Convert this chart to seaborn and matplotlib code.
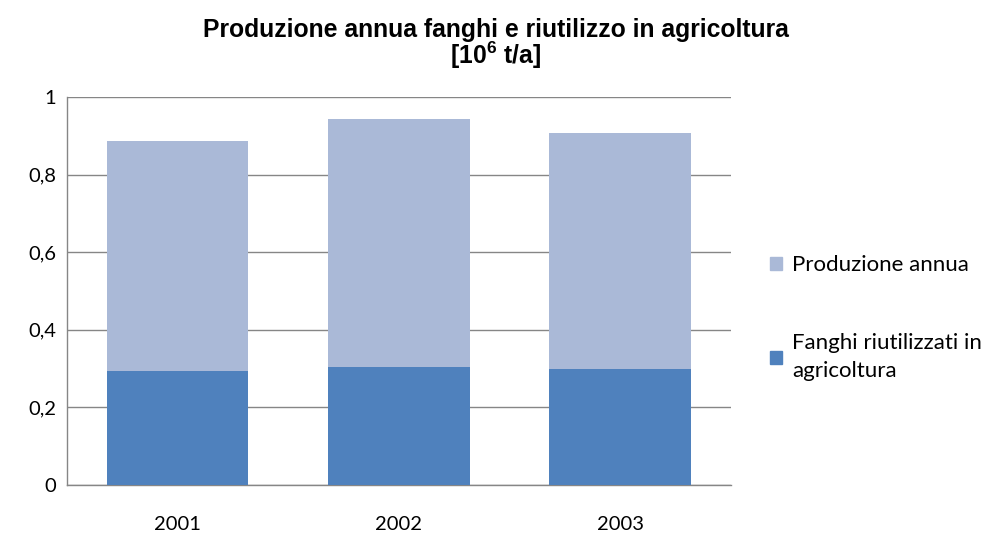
import matplotlib
matplotlib.use("Agg")
import matplotlib.pyplot as plt
import seaborn as sns
from matplotlib.ticker import FuncFormatter
from matplotlib.patches import Patch

anni = ["2001", "2002", "2003"]
produzione = [0.887, 0.943, 0.906]
riutilizzati = [0.293, 0.304, 0.298]

light = "#AAB9D7"
dark = "#4F81BD"

sns.set_style("white")
plt.rcParams["font.family"] = ["Lato", "DejaVu Sans"]
plt.rcParams["text.color"] = "black"
plt.rcParams["xtick.color"] = "black"
plt.rcParams["ytick.color"] = "black"
plt.rcParams["mathtext.fontset"] = "custom"
plt.rcParams["mathtext.bf"] = "Liberation Sans:bold"

fig = plt.figure(figsize=(9.91, 5.36), dpi=100)
ax = fig.add_axes([0.0676, 0.0951, 0.67, 0.724])

sns.barplot(x=anni, y=produzione, color=light, saturation=1, width=0.64,
            linewidth=0, ax=ax, zorder=3)
sns.barplot(x=anni, y=riutilizzati, color=dark, saturation=1, width=0.64,
            linewidth=0, ax=ax, zorder=4)

ax.set_ylim(0, 1)
ax.set_yticks([0, 0.2, 0.4, 0.6, 0.8, 1])
ax.yaxis.set_major_formatter(FuncFormatter(lambda v, p: ("%g" % round(v, 1)).replace(".", ",")))
ax.grid(axis="y", color="#868686", linewidth=1, zorder=0)
ax.set_axisbelow(True)
for s in ["top", "right"]:
    ax.spines[s].set_visible(False)
for s in ["left", "bottom"]:
    ax.spines[s].set_color("#868686")
    ax.spines[s].set_linewidth(1)
ax.tick_params(axis="both", length=0, labelsize=14.5)
ax.tick_params(axis="x", pad=22)
ax.tick_params(axis="y", pad=8)
ax.set_xlabel("")
ax.set_ylabel("")

fig.text(0.5, 0.944, "Produzione annua fanghi e riutilizzo in agricoltura",
         ha="center", va="center", fontsize=17.8, fontweight="bold", family="Liberation Sans")
fig.text(0.5, 0.896, r"[10$^{\mathbf{6}}$ t/a]",
         ha="center", va="center", fontsize=17.8, fontweight="bold", family="Liberation Sans")

handles = [Patch(color=light), Patch(color=dark)]
fig.legend(handles, ["Produzione annua", "Fanghi riutilizzati in\nagricoltura"],
           loc="upper left", bbox_to_anchor=(0.757, 0.561), frameon=False,
           handlelength=0.55, handleheight=0.55, handletextpad=0.45,
           labelspacing=2.6, prop={"family": "Lato", "size": 16})
for t in fig.legends[0].get_texts():
    t.set_linespacing(1.5)

fig.savefig("out.png", dpi=100)
